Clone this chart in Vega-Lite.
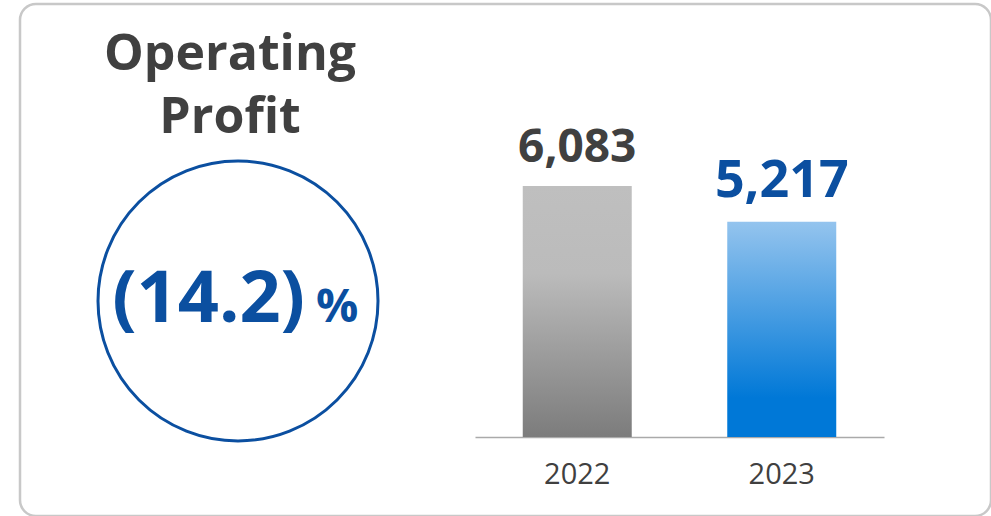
{
  "$schema": "https://vega.github.io/schema/vega-lite/v6.json",
  "width": 971,
  "height": 512,
  "autosize": "none",
  "padding": {"left": 20, "top": 4, "right": 0, "bottom": 0},
  "background": "white",
  "config": {
    "view": {"stroke": "#c8c8c8", "strokeWidth": 2.5, "cornerRadius": 16},
    "font": "Open Sans"
  },
  "layer": [
    {
      "data": {"values": [{"metric": "Operating Profit", "change": "(14.2)", "unit": "%"}]},
      "encoding": {
        "x": {"field": "metric", "type": "nominal", "scale": {"type": "point", "range": [0, 436]}, "axis": null},
        "y": {"field": "metric", "type": "nominal", "scale": {"type": "point", "range": [84, 510]}, "axis": null}
      },
      "layer": [
        {"mark": {"type": "point", "shape": "circle", "filled": false, "size": 78400, "color": "#0b4fa0", "strokeWidth": 3, "opacity": 1}},
        {"mark": {"type": "text", "align": "right", "baseline": "alphabetic", "dx": 67, "dy": 21, "fontSize": 72, "fontWeight": "bold", "color": "#0b4fa0"}, "encoding": {"text": {"field": "change"}}},
        {"mark": {"type": "text", "align": "left", "baseline": "alphabetic", "dx": 78, "dy": 21, "fontSize": 47, "fontWeight": "bold", "color": "#0b4fa0"}, "encoding": {"text": {"field": "unit"}}},
        {"mark": {"type": "text", "align": "center", "baseline": "alphabetic", "dx": -8, "dy": -231, "fontSize": 50, "fontWeight": "bold", "color": "#404040", "lineBreak": " ", "lineHeight": 63}, "encoding": {"text": {"field": "metric"}}}
      ]
    },
    {
      "data": {"values": [{"year": "2022", "profit": 6083}, {"year": "2023", "profit": 5217}]},
      "encoding": {
        "x": {
          "field": "year", "type": "nominal",
          "scale": {"range": [455, 864], "paddingInner": 0.467, "paddingOuter": 0.2335},
          "axis": {"title": null, "offset": -79, "domainColor": "#aaaaaa", "domainWidth": 1.5, "ticks": false, "labelFontSize": 29, "labelColor": "#404040", "labelPadding": 23, "labelAngle": 0, "labelFont": "Open Sans"}
        },
        "y": {"field": "profit", "type": "quantitative", "scale": {"domain": [0, 10495], "range": [433, 0]}, "axis": null}
      },
      "layer": [
        {
          "transform": [{"filter": "datum.year == '2022'"}],
          "mark": {"type": "bar", "color": {"gradient": "linear", "x1": 0, "y1": 0, "x2": 0, "y2": 1, "stops": [{"offset": 0, "color": "#bfbfbf"}, {"offset": 0.35, "color": "#bbbbbb"}, {"offset": 1, "color": "#7c7c7c"}]}}
        },
        {
          "transform": [{"filter": "datum.year == '2023'"}],
          "mark": {"type": "bar", "color": {"gradient": "linear", "x1": 0, "y1": 0, "x2": 0, "y2": 1, "stops": [{"offset": 0, "color": "#94c4ee"}, {"offset": 0.82, "color": "#0078d7"}, {"offset": 1, "color": "#0078d7"}]}}
        },
        {
          "transform": [{"filter": "datum.year == '2022'"}],
          "mark": {"type": "text", "baseline": "alphabetic", "dy": -24, "fontSize": 46, "fontWeight": "bold", "color": "#404040"},
          "encoding": {"text": {"field": "profit", "type": "quantitative", "format": ","}}
        },
        {
          "transform": [{"filter": "datum.year == '2023'"}],
          "mark": {"type": "text", "baseline": "alphabetic", "dy": -25, "fontSize": 52, "fontWeight": "bold", "color": "#0b4fa0"},
          "encoding": {"text": {"field": "profit", "type": "quantitative", "format": ","}}
        }
      ]
    }
  ],
  "resolve": {"scale": {"x": "independent", "y": "independent"}}
}
